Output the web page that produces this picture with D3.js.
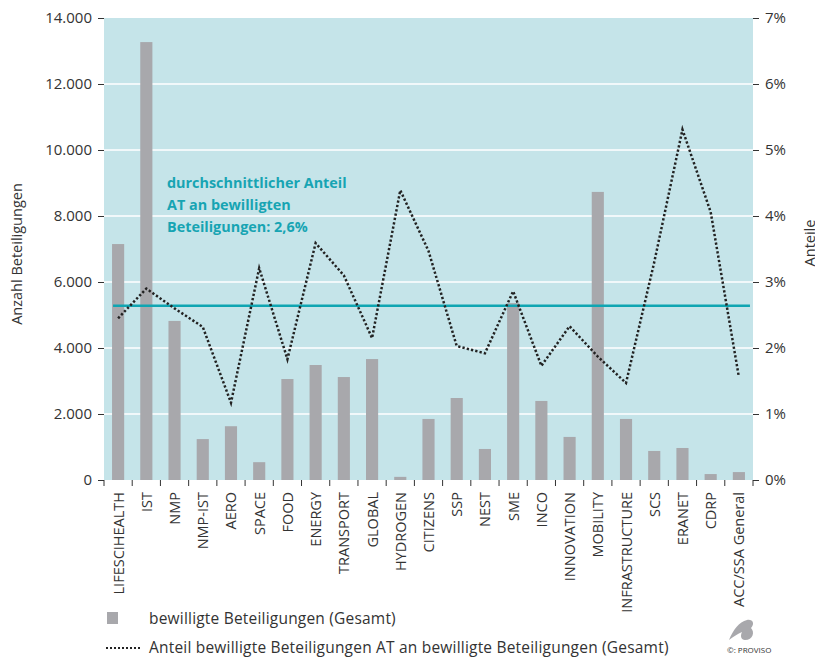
<!DOCTYPE html>
<html>
<head>
<meta charset="utf-8">
<script src="https://cdn.jsdelivr.net/npm/d3@7"></script>
<style>
  body { margin: 0; background: #fff; }
  text { font-family: "Open Sans", sans-serif; fill: #333; }
</style>
</head>
<body>
<div id="plot"></div>
<script>
// chart values
const categories = ["LIFESCIHEALTH", "IST", "NMP", "NMP-IST", "AERO", "SPACE", "FOOD", "ENERGY",
  "TRANSPORT", "GLOBAL", "HYDROGEN", "CITIZENS", "SSP", "NEST", "SME", "INCO", "INNOVATION",
  "MOBILITY", "INFRASTRUCTURE", "SCS", "ERANET", "CDRP", "ACC/SSA General"];
const totals = [7150, 13270, 4820, 1240, 1630, 540, 3060, 3485, 3120, 3665, 95, 1850, 2485,
  940, 5360, 2395, 1305, 8730, 1850, 880, 970, 180, 240];
const shares = [2.45, 2.90, 2.60, 2.32, 1.17, 3.21, 1.83, 3.59, 3.10, 2.15, 4.39, 3.47, 2.03,
  1.92, 2.86, 1.73, 2.33, 1.87, 1.47, 3.30, 5.31, 4.06, 1.56];
const avgShare = 2.64;
const leftTicks = [0, 2000, 4000, 6000, 8000, 10000, 12000, 14000];
const rightTicks = [0, 1, 2, 3, 4, 5, 6, 7];
const noteLines = ["durchschnittlicher Anteil", "AT an bewilligten", "Beteiligungen:  2,6%"];
const legendLabels = ["bewilligte Beteiligungen (Gesamt)",
  "Anteil bewilligte Beteiligungen AT an bewilligte Beteiligungen (Gesamt)"];

const w = 815;
const h = 657;
const margin = {top: 18, right: 62, bottom: 177, left: 104};
const innerWidth = w - margin.left - margin.right;
const innerHeight = h - margin.top - margin.bottom;

const svg = d3.select("div#plot")
  .append("svg")
  .attr("width", w)
  .attr("height", h);

const xScale = d3.scaleBand()
  .domain(categories)
  .range([margin.left, margin.left + innerWidth])
  .paddingInner(0.57)
  .paddingOuter(0.285);

const yScale = d3.scaleLinear()
  .domain([0, 14000])
  .range([margin.top + innerHeight, margin.top]);

const y2Scale = d3.scaleLinear()
  .domain([0, 7])
  .range([margin.top + innerHeight, margin.top]);

// background
svg.append("rect")
  .attr("x", margin.left)
  .attr("y", margin.top)
  .attr("width", innerWidth)
  .attr("height", innerHeight)
  .attr("fill", "#c5e4e9");

// grid lines
svg.append("g")
  .selectAll("line")
  .data(leftTicks.slice(1, -1))
  .join("line")
  .attr("x1", margin.left)
  .attr("x2", margin.left + innerWidth)
  .attr("y1", d => yScale(d))
  .attr("y2", d => yScale(d))
  .attr("stroke", "#fff")
  .attr("stroke-width", 1.5);

// bars
svg.append("g")
  .selectAll("rect")
  .data(categories)
  .join("rect")
  .attr("x", d => xScale(d))
  .attr("y", (d, i) => yScale(totals[i]))
  .attr("width", xScale.bandwidth())
  .attr("height", (d, i) => yScale(0) - yScale(totals[i]))
  .attr("fill", "#a8a8ac");

// average line
svg.append("line")
  .attr("x1", xScale(categories[0]) + 1)
  .attr("x2", xScale(categories[categories.length - 1]) + xScale.bandwidth() + 5)
  .attr("y1", y2Scale(avgShare))
  .attr("y2", y2Scale(avgShare))
  .attr("stroke", "#0fa5b2")
  .attr("stroke-width", 2.5);

// share line
const line = d3.line()
  .x((d, i) => xScale(categories[i]) + xScale.bandwidth() / 2)
  .y(d => y2Scale(d));

svg.append("path")
  .datum(shares)
  .attr("d", line)
  .attr("fill", "none")
  .attr("stroke", "#222")
  .attr("stroke-width", 2.5)
  .attr("stroke-dasharray", "2.3,2.1");

// annotation
svg.append("g")
  .selectAll("text")
  .data(noteLines)
  .join("text")
  .attr("x", 167)
  .attr("y", (d, i) => 188 + i * 22)
  .style("fill", "#17a4b3")
  .style("font-weight", "bold")
  .style("font-size", "14.4px")
  .text(d => d);

// left axis
svg.append("g")
  .attr("transform", `translate(${margin.left}, 0)`)
  .call(d3.axisLeft(yScale).tickValues(leftTicks)
    .tickFormat(d => d3.format(",")(d).replace(/,/g, "."))
    .tickSize(6).tickPadding(6))
  .call(g => g.select(".domain").remove())
  .call(g => g.selectAll("line").attr("stroke", "#333"))
  .call(g => g.selectAll("text").style("font-size", "15px").style("font-family", "'Open Sans', sans-serif").attr("fill", "#333"));

// right axis
svg.append("g")
  .attr("transform", `translate(${margin.left + innerWidth}, 0)`)
  .call(d3.axisRight(y2Scale).tickValues(rightTicks)
    .tickFormat(d => d + "%")
    .tickSize(6).tickPadding(6))
  .call(g => g.select(".domain").remove())
  .call(g => g.selectAll("line").attr("stroke", "#333"))
  .call(g => g.selectAll("text").style("font-size", "15px").style("font-family", "'Open Sans', sans-serif").attr("fill", "#333"));

// x ticks at band boundaries
svg.append("g")
  .selectAll("line")
  .data(d3.range(categories.length + 1))
  .join("line")
  .attr("x1", i => margin.left + i * xScale.step())
  .attr("x2", i => margin.left + i * xScale.step())
  .attr("y1", yScale(0))
  .attr("y2", yScale(0) + 6)
  .attr("stroke", "#333");

// x labels
svg.append("g")
  .selectAll("text")
  .data(categories)
  .join("text")
  .attr("transform", d => `translate(${xScale(d) + xScale.bandwidth() / 2 + 5.5}, ${yScale(0) + 12}) rotate(-90)`)
  .attr("text-anchor", "end")
  .style("font-size", "14.5px")
  .text(d => d);

// axis titles
svg.append("text")
  .attr("transform", "translate(22, 254) rotate(-90)")
  .attr("text-anchor", "middle")
  .style("font-size", "14.5px")
  .text("Anzahl Beteiligungen");

svg.append("text")
  .attr("transform", "translate(815, 243) rotate(-90)")
  .attr("text-anchor", "middle")
  .style("font-size", "14.5px")
  .text("Anteile");

// legend
const legend = svg.append("g");
legend.append("rect")
  .attr("x", 107)
  .attr("y", 612)
  .attr("width", 11)
  .attr("height", 12)
  .attr("fill", "#a8a8ac");
legend.append("line")
  .attr("x1", 106)
  .attr("x2", 141)
  .attr("y1", 648)
  .attr("y2", 648)
  .attr("stroke", "#222")
  .attr("stroke-width", 2)
  .attr("stroke-dasharray", "2,2");
legend.selectAll("text")
  .data(legendLabels)
  .join("text")
  .attr("x", 149)
  .attr("y", (d, i) => 624 + i * 29)
  .style("font-size", "15.5px")
  .style("letter-spacing", "0.2px")
  .text(d => d);

// logo
const logo = svg.append("g").attr("transform", "translate(727, 618)");
logo.append("path")
  .attr("d", "M2,22 C6,12 12,4 20,2 C26,1 28,6 24,10 C28,14 26,22 18,22 C14,22 13,18 15,14 C10,16 6,19 2,22 Z")
  .attr("fill", "#a8a8ac");
logo.append("text")
  .attr("x", 0)
  .attr("y", 35)
  .style("font-size", "8px")
  .text("©: PROVISO");
</script>
</body>
</html>
